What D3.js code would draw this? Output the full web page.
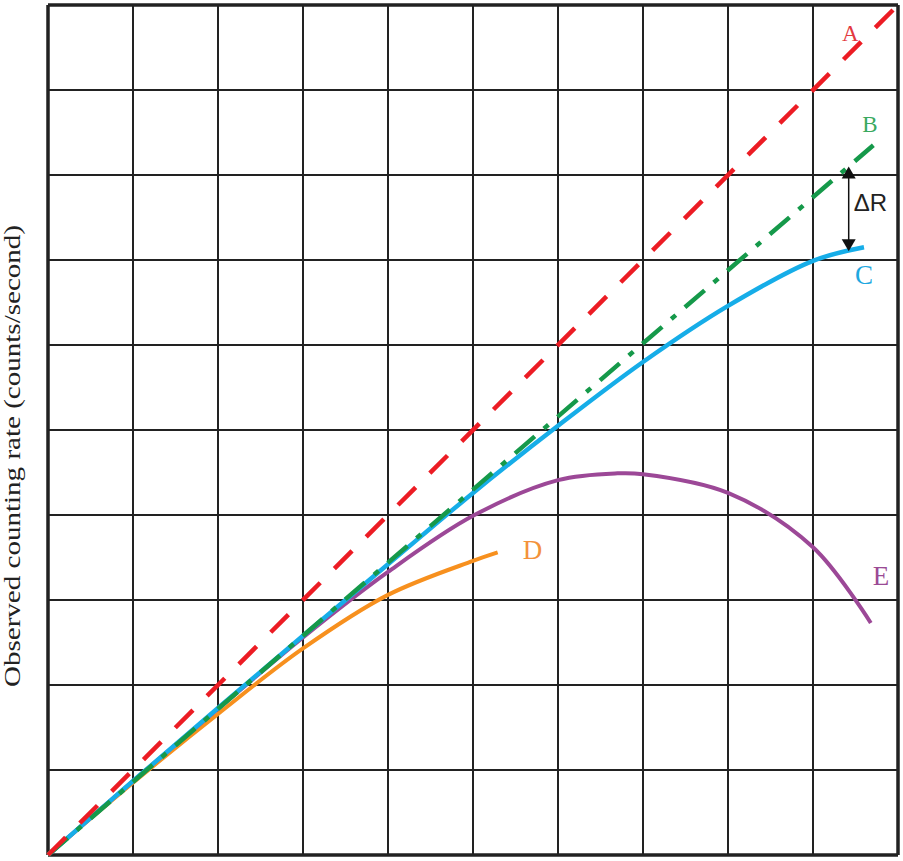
<!DOCTYPE html>
<html>
<head>
<meta charset="utf-8">
<script src="https://cdn.jsdelivr.net/npm/d3@7"></script>
<style>
  html, body { margin: 0; padding: 0; background: #fff; }
  svg { display: block; }
</style>
</head>
<body>
<div id="chart"></div>
<script>
// ---------- data ----------
const gridValues = [0, 1, 2, 3, 4, 5, 6, 7, 8, 9, 10];
const yTitle = "Observed counting rate (counts/second)";

const aX = [0, 10];
const aY = [0, 10];

const bX = [0, 9.71];
const bY = [0, 8.35];

const cX = [0, 1, 2, 3, 4, 5, 6, 7, 8, 9, 9.6];
const cY = [0, 0.87, 1.73, 2.58, 3.42, 4.26, 5.05, 5.8, 6.46, 6.99, 7.15];

const dX = [0, 1, 2, 3, 4, 5, 5.29];
const dY = [0, 0.85, 1.66, 2.43, 3.06, 3.46, 3.56];

const eX = [0, 1, 2, 3, 4, 5, 6, 6.7, 7, 8, 9, 9.68];
const eY = [0, 0.87, 1.72, 2.56, 3.33, 3.99, 4.41, 4.49, 4.48, 4.26, 3.62, 2.73];

const curveLabels = ["A", "B", "C", "D", "E"];
const deltaLabel = "ΔR";
const deltaX = 9.42;

// ---------- layout ----------
const W = 903, H = 861;
const mLeft = 48, mRight = 898, mTop = 5, mBottom = 855;

const svg = d3.select("#chart").append("svg")
  .attr("width", W).attr("height", H);

const x = d3.scaleLinear().domain([0, 10]).range([mLeft, mRight]);
const y = d3.scaleLinear().domain([0, 10]).range([mBottom, mTop]);

// grid
const g = svg.append("g");
g.selectAll("line.v").data(gridValues).join("line")
  .attr("x1", d => x(d)).attr("x2", d => x(d))
  .attr("y1", y(0)).attr("y2", y(10))
  .attr("stroke", "#222")
  .attr("stroke-width", d => (d === 0 || d === 10) ? 3.5 : 2);
g.selectAll("line.h").data(gridValues).join("line")
  .attr("y1", d => y(d)).attr("y2", d => y(d))
  .attr("x1", x(0)).attr("x2", x(10))
  .attr("stroke", "#222")
  .attr("stroke-width", d => (d === 0 || d === 10) ? 3.5 : 2);

const zip = (xs, ys) => xs.map((v, i) => [v, ys[i]]);
const straight = d3.line().x(d => x(d[0])).y(d => y(d[1]));
const smooth = d3.line().x(d => x(d[0])).y(d => y(d[1])).curve(d3.curveCatmullRom.alpha(0.5));

const curves = svg.append("g").attr("fill", "none").attr("stroke-linecap", "butt");

curves.append("path").attr("d", smooth(zip(dX, dY)))
  .attr("stroke", "#f7901e").attr("stroke-width", 4);
curves.append("path").attr("d", smooth(zip(eX, eY)))
  .attr("stroke", "#9c4897").attr("stroke-width", 4);
curves.append("path").attr("d", smooth(zip(cX, cY)))
  .attr("stroke", "#16ade8").attr("stroke-width", 4.5);
curves.append("path").attr("d", straight(zip(bX, bY)))
  .attr("stroke", "#15994a").attr("stroke-width", 4.5)
  .attr("stroke-dasharray", "26,12,6,12");
curves.append("path").attr("d", straight(zip(aX, aY)))
  .attr("stroke", "#ec1c24").attr("stroke-width", 4.5)
  .attr("stroke-dasharray", "25,20");

// delta R arrow
const bAt = bY[1] / bX[1] * deltaX;
const cAt = d3.scaleLinear().domain(cX).range(cY)(deltaX);
const ax = x(deltaX);
const yTop = y(bAt), yBot = y(cAt);
svg.append("line")
  .attr("x1", ax).attr("x2", ax)
  .attr("y1", yTop + 10).attr("y2", yBot - 10)
  .attr("stroke", "#111").attr("stroke-width", 1.5);
svg.append("path")
  .attr("d", `M${ax},${yTop} L${ax - 7},${yTop + 12} L${ax + 7},${yTop + 12} Z`)
  .attr("fill", "#111");
svg.append("path")
  .attr("d", `M${ax},${yBot} L${ax - 7},${yBot - 12} L${ax + 7},${yBot - 12} Z`)
  .attr("fill", "#111");
svg.append("text")
  .attr("x", ax + 5).attr("y", (yTop + yBot) / 2 + 2)
  .attr("font-family", "Liberation Sans, Arial, sans-serif")
  .attr("font-size", 24).attr("fill", "#222")
  .text(deltaLabel);

// curve labels
const labelFont = "Liberation Serif, Times New Roman, serif";
const labelSpecs = [
  { t: curveLabels[0], px: x(aX[1]) - 56, py: y(aY[1]) + 36, c: "#e33a3f", s: 23 },
  { t: curveLabels[1], px: x(bX[1]) - 11, py: y(bY[1]) - 13, c: "#3aa95f", s: 23 },
  { t: curveLabels[2], px: x(cX[cX.length - 1]) - 9, py: y(cY[cY.length - 1]) + 37, c: "#1fa8e0", s: 27 },
  { t: curveLabels[3], px: x(dX[dX.length - 1]) + 25, py: y(dY[dY.length - 1]) + 7, c: "#f3923a", s: 27 },
  { t: curveLabels[4], px: x(eX[eX.length - 1]) + 2, py: y(eY[eY.length - 1]) - 38, c: "#9a4a95", s: 27 }
];
svg.append("g").selectAll("text").data(labelSpecs).join("text")
  .attr("x", d => d.px).attr("y", d => d.py)
  .attr("font-family", labelFont).attr("font-size", d => d.s)
  .attr("fill", d => d.c)
  .text(d => d.t);

// y axis title
svg.append("text")
  .attr("transform", `translate(20, 456) rotate(-90)`)
  .attr("text-anchor", "middle")
  .attr("font-family", labelFont)
  .attr("font-size", 24)
  .attr("textLength", 462)
  .attr("lengthAdjust", "spacingAndGlyphs")
  .attr("fill", "#222")
  .text(yTitle);
</script>
</body>
</html>
